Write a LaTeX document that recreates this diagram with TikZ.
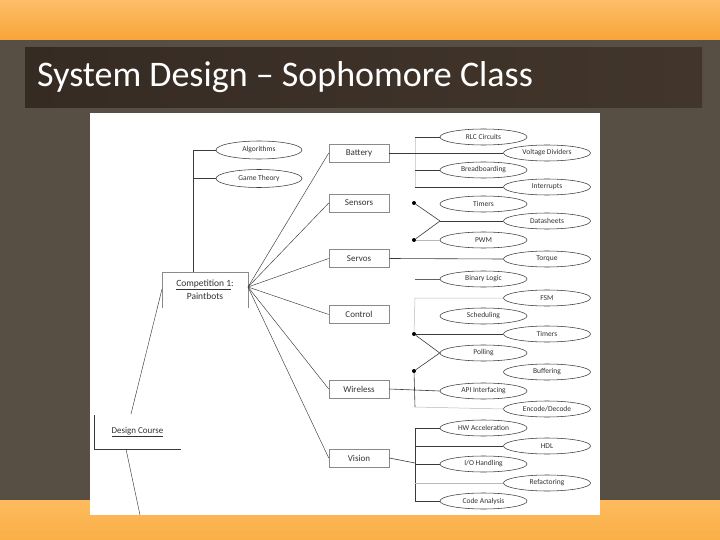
\documentclass[tikz,border=0pt]{standalone}
\usepackage{fontspec}
\setmainfont{Carlito}
\usetikzlibrary{shapes.geometric,calc}
\definecolor{orTop}{HTML}{FDBE68}
\definecolor{orBot}{HTML}{F8A53A}
\definecolor{orTop2}{HTML}{FDBB5E}
\definecolor{orBot2}{HTML}{FBAE46}
\definecolor{slateC}{HTML}{574E44}
\definecolor{barA}{HTML}{362B23}
\definecolor{barB}{HTML}{42362C}
\definecolor{lineC}{HTML}{3A3A3A}
\definecolor{lightC}{HTML}{B8B8B8}
\definecolor{boxC}{HTML}{8A8A8A}
\definecolor{txtC}{HTML}{333333}
\begin{document}
\begin{tikzpicture}[x=1pt,y=-1pt,
  ell/.style={ellipse,draw=lineC,line width=0.55pt,minimum width=87pt,minimum height=16pt,inner sep=0pt,font=\fontsize{7.5}{8}\selectfont,text=txtC},
  box/.style={rectangle,draw=boxC,line width=0.55pt,minimum width=60pt,minimum height=18pt,inner sep=0pt,font=\fontsize{9}{10}\selectfont,text=txtC},
  ln/.style={draw=lineC,line width=0.6pt},
  fan/.style={draw=lineC,line width=0.45pt},
  lt/.style={draw=lightC,line width=0.5pt},
  jdot/.style={circle,fill=black,inner sep=0pt,minimum size=4pt}]
\useasboundingbox (0,0) rectangle (720,540);
% slide background
\fill[slateC] (0,0) rectangle (720,540);
\shade[top color=orTop,bottom color=orBot] (0,0) rectangle (720,40);
\shade[top color=orTop2,bottom color=orBot2] (0,500) rectangle (720,540);
\shade[left color=barA,right color=barB] (25,48) rectangle (702,108);
\node[anchor=base west,inner sep=0pt,text=white,font=\fontsize{36}{40}\selectfont] (title) at (37,87) {System Design – Sophomore Class};
% picture area
\fill[white] (90,113) rectangle (600,515);

% left part
\node[ell,minimum width=86pt,minimum height=18pt] (alg) at (259,150) {Algorithms};
\node[ell,minimum width=86pt,minimum height=18pt] (gt) at (259,178.5) {Game Theory};
\node[rectangle,minimum width=86pt,minimum height=36pt,inner sep=0pt,align=center,font=\fontsize{9.5}{13}\selectfont,text=txtC] (comp) at (205,290) {\underline{Competition 1}:\\Paintbots};
\draw[boxC,line width=0.55pt] (comp.south west) -- (comp.north west) -- (comp.north east) -- (comp.south east);
\node[rectangle,minimum width=87pt,minimum height=34pt,inner sep=0pt,font=\fontsize{9}{10}\selectfont,text=txtC] (dc) at (137.5,432) {\underline{Design Course}};
\draw[lineC,line width=0.55pt] (dc.north west) -- (dc.south west) -- (dc.south east);
\coordinate (tree) at (193,150);
\coordinate (treeB) at (193,178.5);
\draw[ln] (tree) -- (alg.west);
\draw[ln] (treeB) -- (gt.west);
\draw[ln] (tree) -- (tree |- comp.north);
\coordinate (dcTop) at (131,414);
\coordinate (compW) at (162,289);
\coordinate (dcBot) at (126,449);
\coordinate (outB) at (140,515);
\draw[fan] (dcTop) -- (compW);
\draw[fan] (dcBot) -- (outB);

% subsystem boxes
\node[box] (bat) at (359,153) {Battery};
\node[box] (sen) at (359,203) {Sensors};
\node[box] (serv) at (359,258.5) {Servos};
\node[box] (ctrl) at (359,314.5) {Control};
\node[box] (wir) at (359,389) {Wireless};
\node[box] (vis) at (359,458) {Vision};
\coordinate (fanO) at (248,287);
\foreach \b in {bat,sen,serv,ctrl,wir,vis} \draw[fan] (fanO) -- (\b.west);

% topic ellipses
\node[ell] (rlc) at (483.5,137) {RLC Circuits};
\node[ell] (vd) at (547,153) {Voltage Dividers};
\node[ell] (bb) at (483.5,170) {Breadboarding};
\node[ell] (intr) at (547,187) {Interrupts};
\node[ell] (tim1) at (483.5,204) {Timers};
\node[ell] (ds) at (547,221) {Datasheets};
\node[ell] (pwm) at (483.5,240) {PWM};
\node[ell] (torq) at (547,259) {Torque};
\node[ell] (bl) at (483.5,279) {Binary Logic};
\node[ell] (fsm) at (547,298) {FSM};
\node[ell] (sched) at (483.5,316) {Scheduling};
\node[ell] (tim2) at (547,334) {Timers};
\node[ell] (poll) at (483.5,353) {Polling};
\node[ell] (buf) at (547,372) {Buffering};
\node[ell] (api) at (483.5,391) {API Interfacing};
\node[ell] (enc) at (547,409) {Encode/Decode};
\node[ell] (hw) at (483.5,428) {HW Acceleration};
\node[ell] (hdl) at (547,446) {HDL};
\node[ell] (io) at (483.5,464) {I/O Handling};
\node[ell] (ref) at (547,483) {Refactoring};
\node[ell] (code) at (483.5,501) {Code Analysis};

% Battery links
\coordinate (b1) at (415,137);
\coordinate (b2) at (415,170);
\coordinate (b3) at (415,187);
\draw[lt,draw=lightC!60] (b1) -- (b3);
\draw[ln] (bat.east) -- (vd.west);
\draw[ln] (b1) -- (rlc.west);
\draw[ln] (b2) -- (bb.west);
\draw[ln] (b3) -- (intr.west);
% Sensors links
\node[jdot] (d1) at (414,203) {};
\node[jdot] (d2) at (414,240) {};
\coordinate (j1) at (440,221);
\draw[ln] (d1) -- (j1);
\draw[ln] (d2) -- (j1);
\draw[ln] (j1) -- (ds.west);
\draw[lt] (d2) -- (pwm.west);
% Servos links
\draw[ln] (serv.east) -- (torq.west);
\coordinate (s1) at (415,279);
\draw[ln,draw=lineC!80] (s1) -- (bl.west);
% Control links
\coordinate (c0) at (415,298);
\node[jdot] (d3) at (414,334) {};
\node[jdot] (d4) at (414,371) {};
\draw[lt] (fsm.west) -- (c0) -- (d3);
\draw[ln] (d3) -- (tim2.west);
\draw[ln] (d3) -- (poll.west);
\draw[ln] (d4) -- (poll.west);
% Wireless links
\coordinate (w1) at (415,407);
\draw[ln] (d4) -- (w1);
\draw[ln] (wir.east) -- (api.west);
\draw[lt] (w1) -- (enc.west);
% Vision links
\coordinate (v0) at (415,463);
\coordinate (v1) at (415,428);
\coordinate (v2) at (415,446);
\coordinate (v3) at (415,464);
\coordinate (v4) at (415,483);
\coordinate (v5) at (415,501);
\draw[ln] (vis.east) -- (v0);
\draw[ln] (v1) -- (v5);
\draw[ln] (v1) -- (hw.west);
\draw[ln] (v2) -- (hdl.west);
\draw[ln] (v3) -- (io.west);
\draw[lt] (v4) -- (ref.west);
\draw[ln] (v5) -- (code.west);
\end{tikzpicture}
\end{document}
